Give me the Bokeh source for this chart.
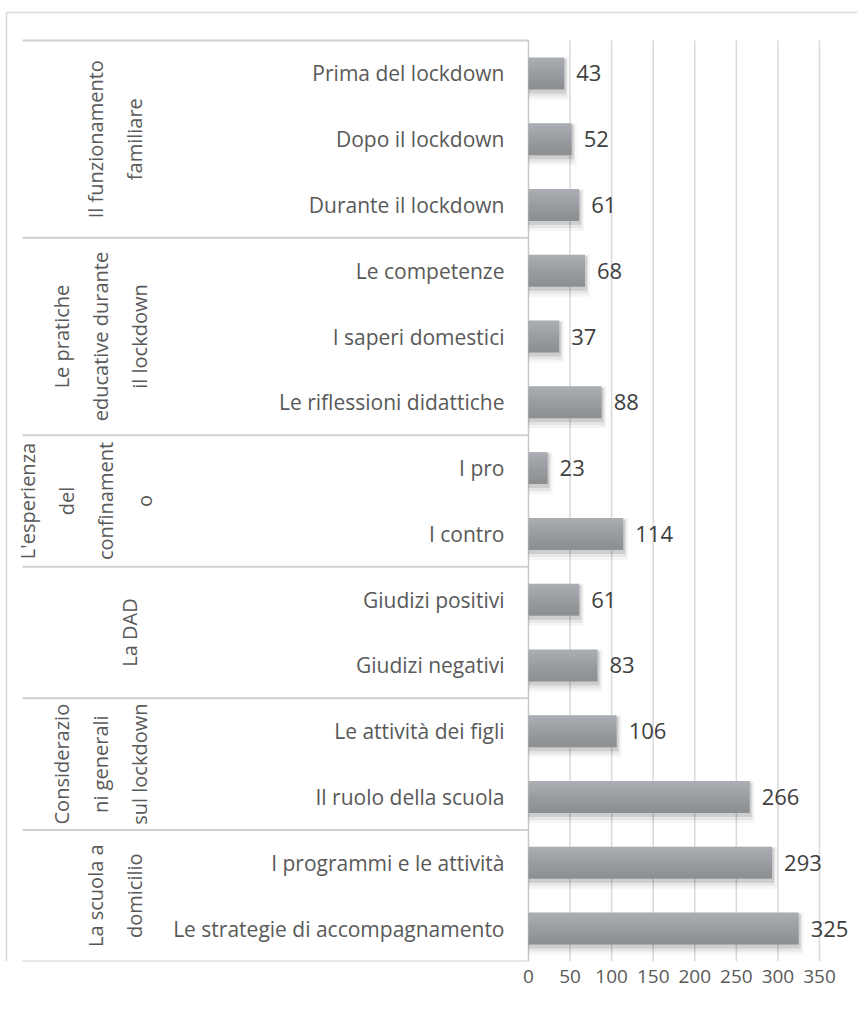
import math
from bokeh.plotting import figure
from bokeh.models import Range1d, FixedTicker, ColumnDataSource
from bokeh.core.properties import value
from bokeh.embed import file_html
from bokeh.resources import INLINE

# ---------------- data ----------------
group_names = ["Il funzionamento familiare",
               "Le pratiche educative durante il lockdown",
               "L'esperienza del confinamento",
               "La DAD",
               "Considerazioni generali sul lockdown",
               "La scuola a domicilio"]
group_labels = ["Il funzionamento\nfamiliare",
                "Le pratiche\neducative durante\nil lockdown",
                "L'esperienza\ndel\nconfinament\no",
                "La DAD",
                "Considerazio\nni generali\nsul lockdown",
                "La scuola a\ndomicilio"]
group_sizes = [3, 3, 2, 2, 2, 2]
categories = ["Prima del lockdown", "Dopo il lockdown", "Durante il lockdown",
              "Le competenze", "I saperi domestici", "Le riflessioni didattiche",
              "I pro", "I contro",
              "Giudizi positivi", "Giudizi negativi",
              "Le attività dei figli", "Il ruolo della scuola",
              "I programmi e le attività", "Le strategie di accompagnamento"]
values = [43, 52, 61, 68, 37, 88, 23, 114, 61, 83, 106, 266, 293, 325]
x_ticks = [0, 50, 100, 150, 200, 250, 300, 350]

# ---------------- layout (page px; the page has no body margin) ----------------
FONT = value("Open Sans")
W, H = 857, 1017
FRAME_BOTTOM = 961          # px where the category area ends
SLOT_TOP = 40               # px where the first category starts
ZERO_X, MAX_X = 528, 819    # px of 0 and of the axis max
XMAX = x_ticks[-1]
N = len(categories)
PXU = (MAX_X - ZERO_X) / XMAX
PYU = (FRAME_BOTTOM - SLOT_TOP) / N


def fx(px):
    return (px - ZERO_X) / PXU


def fy(py):
    return (py - SLOT_TOP) / PYU


p = figure(width=W, height=H,
           x_range=Range1d(-ZERO_X / PXU, (W - ZERO_X) / PXU),
           y_range=Range1d(start=N, end=-SLOT_TOP / PYU),
           output_backend="svg", toolbar_location=None,
           y_axis_location=None,
           min_border_left=0, min_border_right=0, min_border_top=0,
           min_border_bottom=H - FRAME_BOTTOM)
p.outline_line_color = None
p.xgrid.visible = False
p.ygrid.visible = False
p.background_fill_color = "white"
p.border_fill_color = "white"

# x axis (tick labels only)
ax = p.xaxis[0]
ax.ticker = FixedTicker(ticks=x_ticks)
ax.axis_line_color = None
ax.major_tick_line_color = None
ax.minor_tick_line_color = None
ax.major_label_standoff = 2
ax.major_label_text_font = "Open Sans"
ax.major_label_text_font_size = "19px"
ax.major_label_text_color = "#595959"

centers = [i + 0.5 for i in range(N)]

# outer chart border (left + top)
p.segment(x0=[fx(6), fx(6)], y0=[fy(12), fy(12)], x1=[fx(6), fx(W + 5)], y1=[N, fy(12)],
          line_color="#d9d9d9", line_width=1.5)

# vertical gridlines
p.segment(x0=x_ticks[1:], x1=x_ticks[1:], y0=[0] * (len(x_ticks) - 1), y1=[N] * (len(x_ticks) - 1),
          line_color="#d9d9d9", line_width=1.5)

# group separators
bounds = [0]
for s in group_sizes:
    bounds.append(bounds[-1] + s)
p.segment(x0=[fx(22)] * len(bounds), x1=[0] * len(bounds), y0=bounds, y1=bounds,
          line_color="#d0d0d0", line_width=2)
# category axis line
p.segment(x0=[0], x1=[0], y0=[0], y1=[N], line_color="#c8c8c8", line_width=1.5)

# bars: shadow, body, smooth shading
BAR_H = 32 / PYU
src = ColumnDataSource(dict(y=centers, v=values, lab=[str(v) for v in values], cat=categories))
for dy, dh, dx, a in [(5, 10, 5, 0.04), (4, 6, 3, 0.06), (3, 2, 2, 0.10)]:
    p.hbar(y=[c + dy / PYU for c in centers], left=0,
           right=[v + dx / PXU for v in values], height=BAR_H + dh / PYU,
           fill_color="black", fill_alpha=a, line_color=None)
p.hbar(y="y", left=0, right="v", height=BAR_H, source=src,
       fill_color="#a9adb1", line_color=None)
for k in range(1, 9):
    frac = k / 9
    p.hbar(y=[c + BAR_H / 2 - BAR_H * frac / 2 for c in centers], left=0, right=values,
           height=BAR_H * frac, fill_color="black", fill_alpha=0.018, line_color=None)

# value labels
p.text(x="v", y="y", text="lab", source=src, x_offset=12,
       text_align="left", text_baseline="middle",
       text_font=FONT, text_font_size="22px", text_color="#404040")

# category labels
p.text(x=[0] * N, y=centers, text=categories, x_offset=-24,
       text_align="right", text_baseline="middle",
       text_font=FONT, text_font_size="21px", text_color="#595959")

# group labels (rotated, multi-line); last line sits near x = 129 px
gx, gy = [], []
for lab, b0, s in zip(group_labels, bounds[:-1], group_sizes):
    n = lab.count("\n") + 1
    gx.append(fx(129 - (n - 1) * 29 / 2))
    gy.append(b0 + s / 2)
p.text(x=gx, y=gy, text=group_labels, angle=math.pi / 2,
       text_align="center", text_baseline="middle", text_line_height=1.45,
       text_font=FONT, text_font_size="20px", text_color="#595959")

open("out.html", "w").write(file_html(p, INLINE))
